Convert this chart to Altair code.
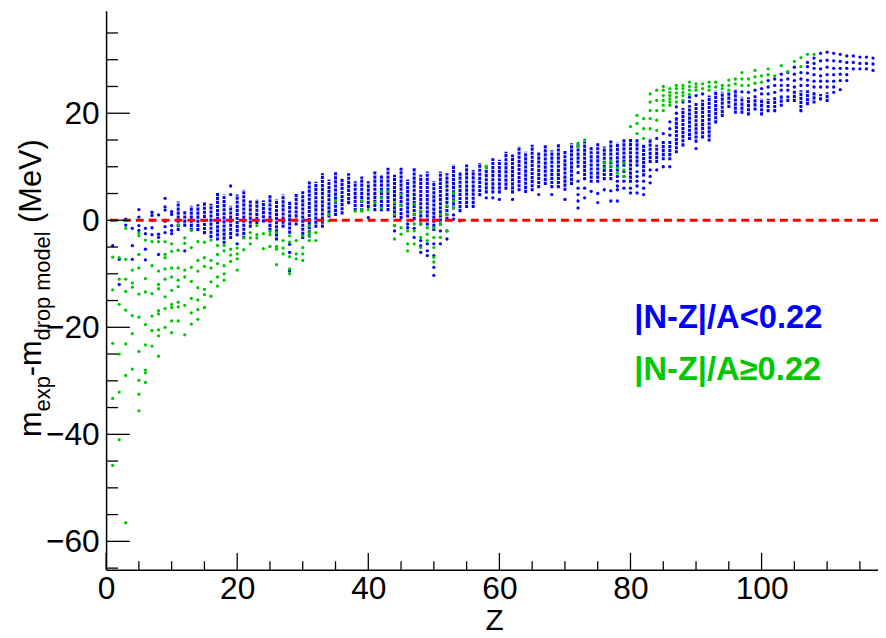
import altair as alt
import pandas as pd

# ---------------- data ----------------
# dense blue columns: (Z, low, high) in MeV
BLUE_BANDS = [
    (11, -2.0, 3.5), (12, -1.2, 1.8), (13, -2.0, 2.7), (14, -2.0, 3.0), (15, -2.6, 3.3),
    (16, -3.3, 3.1), (17, -3.8, 5.1), (18, -4.4, 4.8), (19, -3.5, 2.7), (20, -3.0, 4.8),
    (21, -3.5, 5.7), (22, -1.4, 3.7), (23, -0.7, 3.9), (24, -0.4, 3.7), (25, -2.0, 4.8),
    (26, -3.8, 3.9), (27, -1.4, 4.8), (28, -2.5, 3.6), (29, -1.0, 5.1), (30, -3.5, 5.6),
    (31, -3.2, 7.4), (32, -1.4, 7.2), (33, -1.4, 8.8), (34, 0.5, 7.6), (35, 0.8, 9.1),
    (36, 1.1, 7.9), (37, 3.0, 8.8), (38, 1.7, 7.3), (39, 1.7, 8.2), (40, 2.3, 7.3),
    (41, 1.7, 9.1), (42, 1.7, 8.5), (43, 1.7, 9.8), (44, 0.5, 8.5), (45, 0.2, 9.8),
    (46, 0.5, 7.6), (47, 0.0, 9.8), (48, -1.0, 8.5), (49, -1.0, 9.1), (50, -2.0, 7.3),
    (51, -1.0, 9.1), (52, 0.0, 8.8), (53, 2.0, 10.4), (54, 1.5, 9.1), (55, 2.3, 10.4),
    (56, 2.3, 9.4), (57, 4.5, 10.7), (58, 5.0, 10.1), (59, 5.0, 11.6), (60, 5.0, 11.3),
    (61, 5.7, 12.8), (62, 5.0, 12.3), (63, 5.4, 13.8), (64, 5.1, 12.8), (65, 5.4, 14.1),
    (66, 6.0, 12.8), (67, 6.6, 14.1), (68, 6.0, 13.1), (69, 6.0, 14.2), (70, 5.5, 13.1),
    (71, 6.6, 14.4), (72, 9.8, 14.4), (73, 7.5, 14.7), (74, 7.0, 13.8), (75, 7.0, 14.4),
    (76, 7.5, 13.8), (77, 7.5, 15.0), (78, 9.1, 14.5), (79, 10.0, 15.3), (80, 7.0, 15.3),
    (81, 10.0, 15.3), (82, 8.2, 14.1), (83, 10.7, 15.3), (84, 10.7, 14.1), (85, 11.2, 14.9),
    (86, 11.2, 14.9), (87, 12.5, 18.8), (88, 13.8, 21.0), (89, 15.0, 21.5), (90, 14.5, 22.0),
    (91, 15.3, 22.5), (92, 14.7, 23.3), (93, 18.1, 24.2), (94, 19.3, 24.0), (95, 21.0, 24.0),
    (96, 19.9, 24.5), (97, 19.9, 23.1), (98, 19.6, 23.0), (99, 20.5, 22.7), (100, 19.6, 22.7),
    (101, 20.2, 22.7), (102, 20.2, 23.0), (103, 21.2, 23.3), (104, 22.1, 23.3), (105, 22.1, 24.3),
    (106, 20.2, 24.3), (107, 21.5, 24.3), (108, 21.8, 23.9), (109, 22.4, 23.6), (110, 22.1, 23.9),
]

# isolated blue dots: Z -> values (MeV)
BLUE_DOTS = {
    1: [-4.75], 2: [-7.3, -12.0], 3: [0.2, -0.9], 4: [-1.5, -4.75, -7.3],
    5: [2.0, 0.6, -1.0, -1.9], 6: [-1.5, -2.5, -5.4, -7.4], 7: [1.5, 0.9, 0.0, -1.4, -2.7],
    8: [1.0, -2.6, -3.2, -6.4], 9: [4.1, 2.5, 1.9, -0.2, -1.2, -2.3], 10: [1.6, 1.1, -1.0, -1.9, -2.5],
    12: [-5.7], 19: [6.4, 4.8], 20: [-4.4], 28: [-4.5, -6.0, -9.5], 40: [0.5],
    44: [-1.0, -2.0], 46: [-0.7, -1.4], 47: [-1.5, -3.2], 48: [-3.8, -4.8, -6.0],
    49: [-4.4, -5.7, -6.6], 50: [-4.4, -6.6, -8.8, -10.3], 51: [-2.0, -4.4], 52: [-2.0, -3.5],
    53: [1.0, 0.2], 54: [-0.1], 58: [4.2], 59: [4.2], 60: [3.9], 62: [3.9], 66: [4.8],
    68: [4.8], 70: [3.9], 72: [8.9, 7.3, 6.0, 4.8, 3.6, 2.3], 73: [6.0, 4.2], 74: [5.4],
    75: [5.0, 3.3], 76: [5.7], 77: [5.5, 3.6], 78: [8.2, 7.3, 6.4, 5.7, 3.6],
    79: [9.1, 8.2, 7.3, 6.0], 80: [6.0, 5.1], 81: [9.1, 8.2, 7.3, 6.4, 5.1], 82: [7.3, 6.0, 4.8],
    83: [9.4, 8.2, 7.0], 84: [15.3, 9.4], 85: [16.2, 10.0], 86: [18.4, 17.1, 15.9, 10.0],
    87: [21.2, 20.0, 19.0], 88: [22.1], 89: [23.0, 22.2], 90: [23.3, 13.4], 91: [23.6],
    97: [24.0], 98: [23.9], 99: [23.1, 24.3], 100: [23.6, 24.6], 101: [23.6, 24.9, 26.1],
    102: [23.9, 25.2, 26.4], 103: [24.3, 25.2, 26.2, 27.3], 104: [24.3, 25.2, 26.4, 27.6],
    105: [24.9, 26.1, 27.3, 28.6], 106: [25.2, 26.4, 27.6], 107: [25.2, 26.2, 27.5, 28.7, 29.5],
    108: [24.9, 26.0, 27.2, 28.4, 29.3, 30.3], 109: [24.9, 26.0, 27.0, 28.3, 29.8, 31.2],
    110: [24.9, 26.0, 27.2, 28.6, 29.9, 31.4], 111: [23.9, 24.9, 26.0, 27.2, 28.4, 29.8, 31.2],
    112: [24.4, 26.1, 27.3, 28.4, 29.7, 31.0], 113: [26.1, 27.2, 28.4, 29.5, 30.7],
    114: [28.3, 29.5, 30.7], 115: [28.3, 29.3, 30.5], 116: [28.3, 29.3, 30.5], 117: [28.0, 29.2, 30.3],
}

# green dots: Z -> values (MeV)
GREEN_DOTS = {
    1: [-6.9, -13.0, -23.0, -33.3, -45.8],
    2: [-7.0, -11.0, -15.7, -25.0, -32.1, -41.0],
    3: [-1.5, -7.3, -11.0, -13.3, -16.8, -23.1, -29.0, -56.5],
    4: [-9.3, -11.7, -12.5, -17.8, -21.2, -27.8],
    5: [-2.4, -2.9, -6.4, -8.9, -13.8, -18.1, -24.5, -29.9, -32.5, -35.6],
    6: [-3.7, -10.9, -13.4, -19.5, -23.3, -28.0, -28.5, -30.3],
    7: [-4.0, -8.5, -13.7, -17.9, -20.6, -23.5],
    8: [-4.0, -9.5, -12.0, -12.8, -16.9, -17.5, -20.5, -21.6, -25.4],
    9: [-4.0, -6.4, -7.0, -9.1, -11.0, -14.3, -16.5, -20.0],
    10: [-4.4, -5.8, -8.9, -10.6, -13.1, -15.7, -16.3, -18.8, -21.0],
    11: [-0.9, -5.6, -8.9, -11.2, -12.4, -15.3, -16.2, -18.8],
    12: [-3.3, -4.3, -9.3, -10.6, -15.9, -21.4],
    13: [-1.9, -5.1, -8.8, -11.4, -14.6, -17.3, -19.4],
    14: [-4.0, -7.5, -9.5, -12.6, -14.9, -16.7, -18.5],
    15: [-4.1, -7.0, -8.6, -12.9, -13.9, -16.3],
    16: [-3.7, -7.5, -8.9, -11.5, -14.2],
    17: [-4.7, -6.4, -8.1, -10.6, -12.3],
    18: [-4.7, -5.7, -8.5, -10.0, -11.2],
    19: [-5.4, -6.5, -7.7], 20: [-5.2, -6.3, -7.2, -9.3], 21: [-3.3, -5.5],
    22: [-2.3, -3.3, -4.4], 23: [-1.0, -2.7, -3.3], 24: [-2.5, -5.3], 25: [-2.1, -2.7, -4.9],
    26: [-2.3, -4.9, -5.4, -8.3], 27: [-3.8, -5.2, -6.3], 28: [-2.9, -4.1, -6.8, -9.1, -10.0],
    29: [-3.8, -6.3, -7.2], 30: [-2.9, -5.1, -6.3, -7.5], 31: [-1.0, -2.3, -2.9, -3.8],
    32: [-2.3, -3.8], 33: [-0.1], 34: [1.1, -0.1], 35: [3.6], 38: [1.7], 39: [3.6, 2.0, 1.7],
    40: [2.0], 41: [3.3], 42: [5.4, 4.2, 2.3], 43: [5.4], 44: [3.3, 1.1, -1.0, -3.5],
    45: [4.8, 2.7, -1.4, -2.6], 46: [-2.0, -4.4, -5.7], 47: [3.0, 1.1, -0.7, -2.0, -4.4],
    48: [1.7, -0.7, -3.2, -5.1], 49: [-1.4, -2.6, -3.8], 50: [-1.4, -3.2, -5.1, -6.9, -7.8],
    51: [1.1, -0.7, -3.2], 52: [2.7, 1.1, -2.0], 53: [5.1, 3.6, 2.3], 58: [9.8, 10.1],
    72: [14.4, 13.8], 73: [15.0], 76: [10.7, 9.8], 77: [11.0, 10.1], 78: [9.8, 8.8],
    79: [10.7, 9.4, 8.2], 80: [17.5], 81: [19.6, 18.1, 16.2], 82: [19.0, 17.1, 15.3],
    83: [23.6, 22.1, 20.5, 19.0, 17.1], 84: [24.3, 22.4, 20.5, 18.7, 16.8],
    85: [25.0, 24.3, 23.3, 22.4, 21.5, 20.5], 86: [24.6, 23.9, 23.3, 22.7, 22.1, 21.5],
    87: [25.2, 24.6, 23.8, 23.0, 22.1], 88: [25.2, 24.6, 23.9, 23.3, 22.4],
    89: [25.8, 25.0, 24.3, 23.5], 90: [25.5, 24.9, 24.3], 91: [25.5, 24.6],
    92: [25.8, 25.0, 24.3], 93: [25.8, 24.9], 94: [25.2, 24.6], 95: [26.2, 25.2, 24.3],
    96: [26.4, 25.5], 97: [27.6, 26.4, 25.2], 98: [26.4, 25.2], 99: [28.0, 26.8, 25.6],
    100: [27.0, 25.8], 101: [28.3, 27.2], 102: [27.0], 103: [28.9], 104: [27.8],
    105: [29.7], 106: [30.4, 28.7], 107: [31.0], 108: [31.0],
}

X_MAJOR = [0, 20, 40, 60, 80, 100]
X_MINOR = [5, 10, 15, 25, 30, 35, 45, 50, 55, 65, 70, 75, 85, 90, 95, 105, 110, 115]
Y_MAJOR = [-60, -40, -20, 0, 20]
Y_MINOR = [-65, -55, -50, -45, -35, -30, -25, -15, -10, -5, 5, 10, 15, 25, 30, 35]
LEGEND = ["|N-Z|/A<0.22", "|N-Z|/A\u22650.22"]
X_TITLE = "Z"

# ---------------- styling ----------------
FONT = "Liberation Sans"
BLUE = "#0000ff"
GREEN = "#00c800"
W, H = 779, 564
xs = alt.Scale(domain=[0, 117.76], nice=False, zero=False)
ys = alt.Scale(domain=[-65.3, 39.13], nice=False, zero=False)

AX_X = alt.Axis(values=X_MAJOR, title=None, ticks=False, labelFontSize=32, labelFont=FONT,
                labelColor="black", labelPadding=29, labelBaseline="alphabetic", labelFlush=False,
                domainColor="black", domainWidth=1.5, grid=False, labelOverlap=False)
AX_Y = alt.Axis(values=Y_MAJOR, title=None, ticks=False, labelFontSize=32, labelFont=FONT,
                labelColor="black", labelPadding=7, labelAlign="right", labelBaseline="middle",
                labelFlush=False, domainColor="black", domainWidth=1.5, grid=False, labelOverlap=False)

def X(field):
    return alt.X(field, scale=xs, axis=AX_X, title=None)

def Y(field):
    return alt.Y(field, scale=ys, axis=AX_Y, title=None)

bands = pd.DataFrame(BLUE_BANDS, columns=["Z", "lo", "hi"])
blue = pd.DataFrame([(z, v) for z, vals in BLUE_DOTS.items() for v in vals], columns=["Z", "v"])
green = pd.DataFrame([(z, v) for z, vals in GREEN_DOTS.items() for v in vals], columns=["Z", "v"])

band_layer = alt.Chart(bands).mark_rule(
    color=BLUE, strokeWidth=3.0, strokeCap="butt", strokeDash=[3.2, 0.9]).encode(
    x=X("Z:Q"), y=Y("lo:Q"), y2="hi:Q")
blue_layer = alt.Chart(blue).mark_circle(size=11, color=BLUE, opacity=1).encode(
    x=X("Z:Q"), y=Y("v:Q"))
green_layer = alt.Chart(green).mark_circle(size=11, color=GREEN, opacity=1).encode(
    x=X("Z:Q"), y=Y("v:Q"))

zero_line = alt.Chart(pd.DataFrame({"v": [0.0]})).mark_rule(
    color="#ff0000", strokeDash=[8, 5], strokeWidth=3).encode(y=Y("v:Q"))

def yticks(vals, length):
    return alt.Chart(pd.DataFrame({"v": vals})).mark_rule(color="black", strokeWidth=1.3).encode(
        y=Y("v:Q"), x=alt.value(0), x2=alt.value(length))

def xticks(vals, length):
    return alt.Chart(pd.DataFrame({"Z": vals})).mark_rule(color="black", strokeWidth=1.3).encode(
        x=X("Z:Q"), y=alt.value(H), y2=alt.value(H - length))

def label(text, x, y, size, color="black", weight="normal", angle=0, align="left"):
    return alt.Chart(pd.DataFrame({"t": [text]})).mark_text(
        font=FONT, fontSize=size, fontWeight=weight, color=color, angle=angle,
        align=align, baseline="alphabetic").encode(
        text="t:N", x=alt.value(x), y=alt.value(y))

# rotated y title with subscripts: m_exp - m_drop model (MeV)
title_parts = [
    label("m", -66, 430, 31, angle=270),
    label("exp", -57, 404.2, 22, angle=270),
    label("-m", -66, 368.7, 31, angle=270),
    label("drop model", -57, 332.6, 22, angle=270),
    label("(MeV)", -66, 214, 31, angle=270),
]

chart = alt.layer(
    band_layer, blue_layer, green_layer, zero_line,
    yticks(Y_MAJOR, 24), yticks(Y_MINOR, 12),
    xticks(X_MAJOR, 17), xticks(X_MINOR, 8.5),
    label(LEGEND[0], 533, 320, 33, color=BLUE, weight="bold"),
    label(LEGEND[1], 533, 373, 33, color=GREEN, weight="bold"),
    label(X_TITLE, 392, 625, 30, align="center"),
    *title_parts,
).properties(
    width=W, height=H,
    autosize=alt.AutoSizeParams(type="none"),
    padding={"left": 99, "top": 0, "right": 0, "bottom": 64},
    background="white",
).configure_view(stroke=None)

chart.save("out.html", embed_options={"renderer": "svg", "actions": False})
